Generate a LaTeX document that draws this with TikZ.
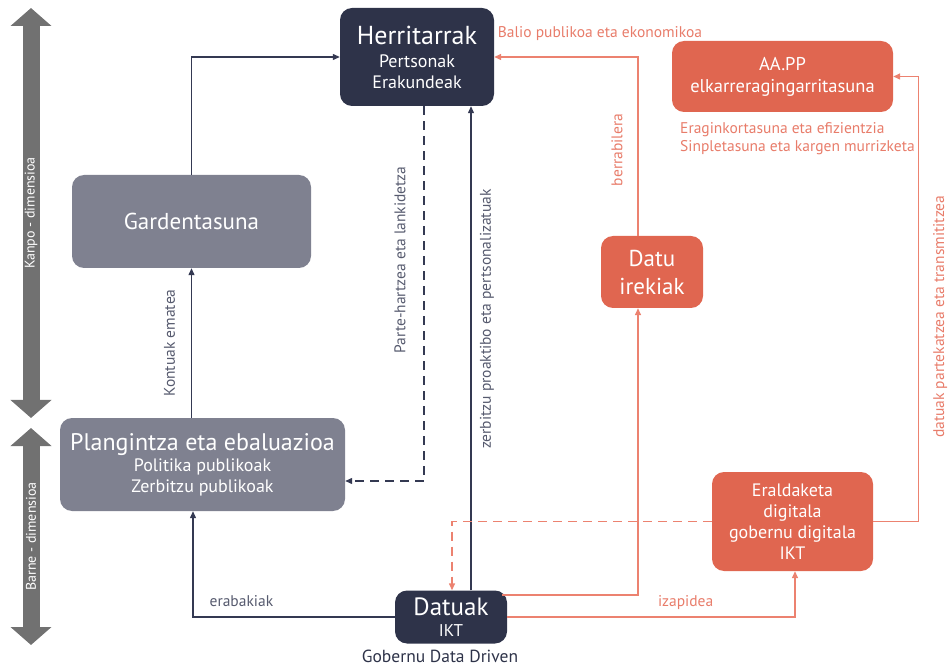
\documentclass[tikz,border=0pt]{standalone}
\usepackage{fontspec}
\setmainfont{PT Sans}
\usetikzlibrary{arrows.meta,positioning}

\definecolor{NavyBox}{RGB}{46,51,73}
\definecolor{GreyBox}{RGB}{127,129,144}
\definecolor{OrangeBox}{RGB}{224,102,80}
\definecolor{OrangeLine}{RGB}{236,130,112}
\definecolor{OrangeText}{RGB}{232,124,106}
\definecolor{NavyLine}{RGB}{52,57,82}
\definecolor{NavyText}{RGB}{86,90,110}
\definecolor{DimGrey}{RGB}{113,113,113}

\newcommand{\BigSize}{\fontsize{26}{30}\selectfont}

\begin{document}
\begin{tikzpicture}[x=1pt,y=-1pt,
  box/.style={rounded corners=12pt, text=white, align=center, inner sep=0pt,
    font=\fontsize{18}{21}\selectfont},
  navybox/.style={box, fill=NavyBox},
  greybox/.style={box, fill=GreyBox},
  orangebox/.style={box, fill=OrangeBox},
  navyline/.style={draw=NavyLine, line width=1.2pt, -{Triangle[width=6pt,length=7pt]}},
  orangeline/.style={draw=OrangeLine, line width=1.4pt, -{Triangle[width=6pt,length=7pt]}},
  dashlink/.style={dash pattern=on 9pt off 6pt},
  navylabel/.style={text=NavyText, font=\fontsize{15.5}{18}\selectfont, inner sep=0pt},
  orangelabel/.style={text=OrangeText, font=\fontsize{15.5}{18}\selectfont, inner sep=0pt},
  dimarrow/.style={draw=DimGrey, line width=17pt,
    {Triangle[width=40pt,length=18pt]}-{Triangle[width=40pt,length=18pt]}},
  dimlabel/.style={text=white, font=\fontsize{14}{16}\selectfont, inner sep=0pt}]

\useasboundingbox (0,0) rectangle (951,668);

\draw[dimarrow] (31,418) -- node[dimlabel, rotate=90] (kanpo) {Kanpo - dimensioa} (31,8);
\draw[dimarrow] (31,645) -- node[dimlabel, rotate=90] (barne) {Barne - dimensioa} (31,428);

\node[navybox, minimum width=154pt, minimum height=98pt] (herri) at (417,57)
  {{\BigSize Herritarrak}\\[2pt]Pertsonak\\Erakundeak};
\node[greybox, minimum width=239pt, minimum height=93pt, font=\fontsize{23}{27}\selectfont] (garden) at (191.5,221.5) {Gardentasuna};
\node[greybox, minimum width=285pt, minimum height=93pt] (plan) at (202.5,464.5)
  {{\fontsize{24}{28}\selectfont Plangintza eta ebaluazioa}\\Politika publikoak\\Zerbitzu publikoak};
\node[navybox, minimum width=112pt, minimum height=53pt] (datuak) at (451,617)
  {{\fontsize{25}{27}\selectfont Datuak}\\{\fontsize{17}{19}\selectfont IKT}};
\node[below=6pt of datuak, xshift=-11pt, text=NavyBox, font=\fontsize{17.5}{20}\selectfont, inner sep=0pt] (gobernu) {Gobernu Data Driven};
\node[orangebox, minimum width=102pt, minimum height=72pt, font=\fontsize{23}{28}\selectfont] (irekiak) at (652,272) {Datu\\irekiak};
\node[orangebox, minimum width=221pt, minimum height=71pt, font=\fontsize{18.5}{22}\selectfont] (aapp) at (782.5,76.5) {AA.PP\\elkarreragingarritasuna};
\node[orangebox, minimum width=161pt, minimum height=99pt] (eral) at (792.5,521.5)
  {Eraldaketa\\digitala\\gobernu digitala\\IKT};
\node[orangelabel, align=left, anchor=north west] (eragin) at (680,122)
  {Eraginkortasuna eta efizientzia\\Sinpletasuna eta kargen murrizketa};

\draw[navyline] (garden.north) |- (herri.west);
\draw[navyline] (garden.south |- plan.north) -- node[navylabel, xshift=-22pt, rotate=90] (kontuak) {Kontuak ematea} (garden.south);
\draw[navyline, dashlink] ([xshift=7pt]herri.south) |- node[pos=0.205, navylabel, xshift=-24pt, rotate=90] (parte) {Parte-hartzea eta lankidetza} ([yshift=-16.5pt]plan.east);
\draw[navyline] ([xshift=20pt]datuak.north) -- node[pos=0.56, navylabel, xshift=16pt, rotate=90] (zerbitzu) {zerbitzu proaktibo eta pertsonalizatuak} ([xshift=54pt]herri.south);
\draw[navyline] (datuak.west) -| node[pos=0.38, navylabel, yshift=16pt] (erabaki) {erabakiak} ([xshift=-9.5pt]plan.south);

\draw[orangeline] ([xshift=-5pt,yshift=22pt]datuak.east) -| ([xshift=-14pt]irekiak.south);
\draw[orangeline] ([xshift=-14pt]irekiak.north) |- node[pos=0.24, orangelabel, xshift=-21pt, rotate=90] (berra) {berrabilera}
  node[pos=0.5, orangelabel, xshift=-38pt, yshift=23pt] (balio) {Balio publikoa eta ekonomikoa} (herri.east);
\draw[orangeline] (datuak.east) -| node[pos=0.31, orangelabel, yshift=14pt] (izapide) {izapidea} ([xshift=2.5pt]eral.south);
\draw[orangeline] (eral.east) -- ++(45,0) |- node[pos=0.23, orangelabel, xshift=22pt, rotate=90] (partekatze) {datuak partekatzea eta transmititzea} (aapp.east);
\draw[orangeline, dashlink] (eral.west) -| ([xshift=1pt]datuak.north);

\end{tikzpicture}
\end{document}
